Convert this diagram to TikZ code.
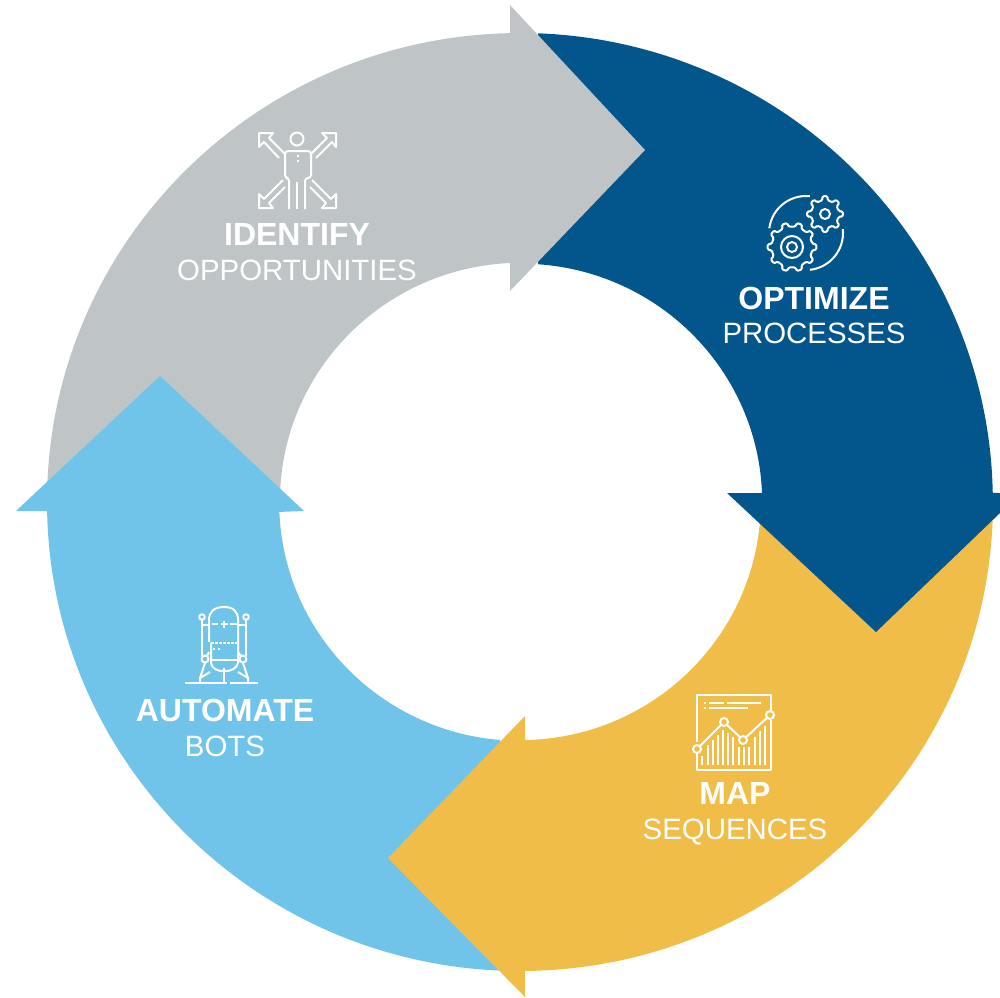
\documentclass[tikz,border=0pt]{standalone}
\usepackage{fontspec}
\setmainfont{Liberation Sans}
\definecolor{cgray}{HTML}{BFC5C7}
\definecolor{cnavy}{HTML}{02568C}
\definecolor{cyel}{HTML}{F0BD48}
\definecolor{cblue}{HTML}{70C4E9}
\newcommand{\gearshape}[5]{% cx cy rin rout n
  \draw[rounded corners=1.2pt] ({#1+#3*cos(-360/#5*0.26)},{#2+#3*sin(-360/#5*0.26)})
   \foreach \k in {0,...,\numexpr#5-1\relax}{
     -- ({#1+#3*cos(\k*360/#5-360/#5*0.26)},{#2+#3*sin(\k*360/#5-360/#5*0.26)})
     -- ({#1+#4*cos(\k*360/#5-360/#5*0.17)},{#2+#4*sin(\k*360/#5-360/#5*0.17)})
     -- ({#1+#4*cos(\k*360/#5+360/#5*0.17)},{#2+#4*sin(\k*360/#5+360/#5*0.17)})
     -- ({#1+#3*cos(\k*360/#5+360/#5*0.26)},{#2+#3*sin(\k*360/#5+360/#5*0.26)})
   } -- cycle;}
\tikzset{
  x=1pt,y=-1pt,
  ic/.style={draw=white,line width=2pt,fill=none,line join=round},
  lab/.style={text=white,font=\fontsize{29.4}{32}\selectfont,inner sep=0pt,anchor=base},
  labb/.style={text=white,font=\fontsize{32}{34}\selectfont\bfseries,inner sep=0pt,anchor=base},
}
\begin{document}
\begin{tikzpicture}
\useasboundingbox (0,0) rectangle (1000,997);
\fill[white] (0,0) rectangle (1000,997);
% gray body
\fill[cgray] (47,502) arc[start angle=180,end angle=268.8,x radius=473,y radius=469]
  -- (510,263) arc[start angle=267.4,end angle=180,x radius=241,y radius=238.5] -- cycle;
% blue
\fill[cblue] (47.1,511) arc[start angle=178.9,end angle=92.4,x radius=473,y radius=469]
  -- (500,740) arc[start angle=94.8,end angle=177.7,x radius=241,y radius=238.5]
  -- (304,511) -- (160,376) -- (16,511) -- cycle;
% yellow
\fill[cyel] (993,502) arc[start angle=0,end angle=89.4,x radius=473,y radius=469]
  -- (525,997) -- (388,858) -- (525,716) -- (525,740)
  arc[start angle=89,end angle=0,x radius=240,y radius=238.5] -- cycle;
% navy
\fill[cnavy] (538,33.3) arc[start angle=-87.8,end angle=-1.1,x radius=473,y radius=469]
  -- (1000,493) -- (1000,513) -- (876,632) -- (727,493) -- (762,493)
  arc[start angle=-2.2,end angle=-86,x radius=241,y radius=238.5] -- cycle;
% gray head
\fill[cgray] (510,5) -- (645,150) -- (510,291) -- cycle;
% labels
\node[labb] (t1) at (297,245.5) {IDENTIFY};
\node[lab] (s1) at (297,280.5) {OPPORTUNITIES};
\node[labb] (t2) at (814,309.5) {OPTIMIZE};
\node[lab] (s2) at (814,343.5) {PROCESSES};
\node[labb] (t3) at (735,804.5) {MAP};
\node[lab] (s3) at (735,839.5) {SEQUENCES};
\node[labb] (t4) at (225,721.5) {AUTOMATE};
\node[lab] (s4) at (225,756.5) {BOTS};
% icon: person
\begin{scope}[ic]
\draw (297,139) circle[radius=6.5];
\draw[rounded corners=3pt] (289,209) -- (289,178) -- (285,178) -- (285,151) -- (311,151) -- (311,178) -- (305,178) -- (305,209);
\draw (297,182) -- (297,209);
\draw (297.5,155) -- (297.5,157) (297.5,160) -- (297.5,162);
% TL
\draw (285,154) -- (269,138) -- (273,133) -- (259,133) -- (259,147) -- (264,142) -- (279,158);
% TR
\draw (311,154) -- (327,138) -- (322,133) -- (336,133) -- (336,147) -- (332,142) -- (316,158);
% BL
\draw (283,180) -- (264,199) -- (259,194) -- (259,208) -- (273,208) -- (269,203) -- (285,187);
% BR
\draw (312,180) -- (331,199) -- (336,194) -- (336,208) -- (322,208) -- (326,203) -- (310,187);
\end{scope}
% icon: gears
\begin{scope}[ic]
\draw (806,233) ++(187.5:37) arc[start angle=187.5,end angle=276,radius=37];
\draw (806,233) ++(-6:37) arc[start angle=-6,end angle=84,radius=37];
\draw (825,214) circle[radius=5];
\gearshape{825}{214}{14}{18}{8}
\draw (792,247) circle[radius=5];
\draw (792,247) circle[radius=11];
\gearshape{792}{247}{20.5}{24.5}{10}
\end{scope}
% icon: chart
\begin{scope}[ic]
\draw (697,742) -- (697,695) -- (771,695) -- (771,770) -- (697,770) -- (697,753);
\draw (704,703) -- (706,703) (709,703) -- (724,703) (727,703) -- (761,703);
\draw (704,708) -- (706,708) (709,708) -- (748,708);
\foreach \x/\y in {702/756,708/745,713/740,718/735,723/730,728/733,733/737,739/747,744/747,749/747,755/737,760/731,765/726}{\draw (\x,765) -- (\x,\y);}
\draw (697,749) -- (724,722) -- (743,740) -- (770,715);
\foreach \x/\y in {697/749,724/722,743/740,770/715}{\fill[cyel] (\x,\y) circle[radius=4]; \draw (\x,\y) circle[radius=4];}
\end{scope}
% icon: bot
\begin{scope}[ic]
\draw (209,642) -- (209,620) .. controls (209,611) and (215,607) .. (224,607) .. controls (233,607) and (238,611) .. (238,620) -- (238,663) .. controls (236,674) and (212,674) .. (211,663) -- (211,643);
\draw (212,624) -- (218,624) (230,624) -- (238,624) (220.5,624) -- (227.5,624) (224,620.5) -- (224,627.5);
\draw (211,660) -- (238,660);
\draw[dash pattern=on 2.5pt off 1.5pt] (211,643) -- (238,643);
\draw (213,649) -- (215,649) (218,649) -- (220,649);
\draw (202,617) circle[radius=2.8] (246,617) circle[radius=2.8];
\draw (202,620) -- (202,656) (246,620) -- (246,656);
\draw (203,625) -- (209,625) (246,625) -- (238,625);
\draw (209,652) -- (207,656) (238,652) -- (241,656);
\draw (205,659) circle[radius=3.5] (243,659) circle[radius=3.5];
\draw (205,663) -- (200,678) -- (200,683) (200,678) -- (210,672);
\draw (243,663) -- (248,678) -- (248,683) (248,678) -- (238,672);
\draw (224,668) -- (224,683);
\draw (185,683) -- (227,683) (230,683) -- (258,683);
\end{scope}
\end{tikzpicture}
\end{document}
